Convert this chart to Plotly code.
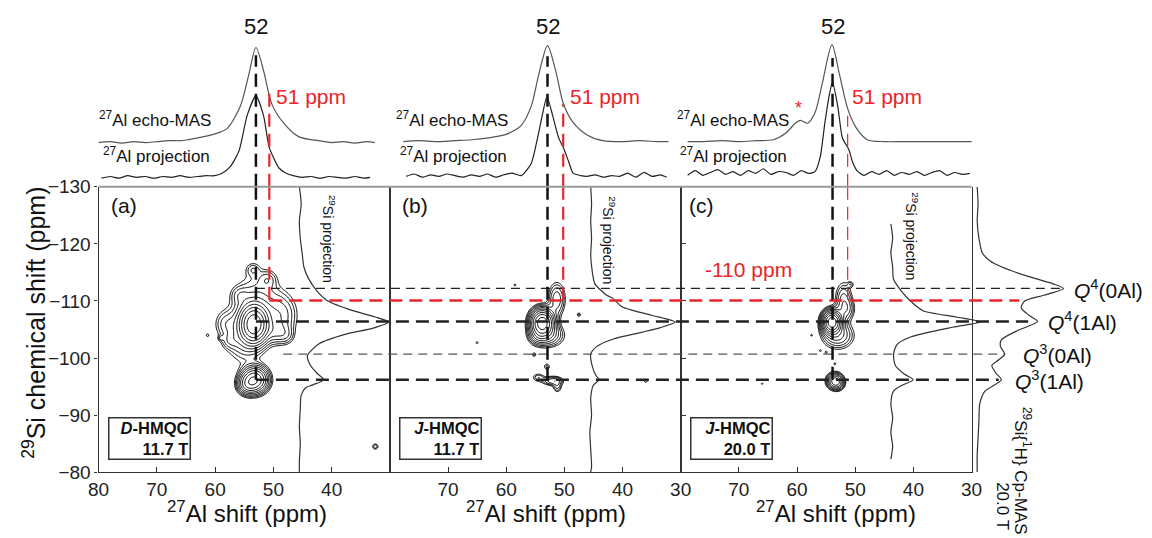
import numpy as np
import plotly.graph_objects as go

# ---------------- DATA ----------------
# 27Al echo-MAS (top traces) : ppm / normalised intensity
echo_a_ppm = [80.2, 78, 76, 74, 72, 70, 68, 66, 64.7, 63, 61.3, 59.6, 57.9, 55.7, 54.2, 53.0, 51.7, 50.3, 48.3, 45.6, 42.2, 40, 38, 36, 34, 32.6]
echo_a_int = [0, 0.01, -0.005, 0.01, 0.0, 0.01, 0.02, 0.02, 0.03, 0.05, 0.07, 0.10, 0.15, 0.38, 0.72, 1.0, 0.76, 0.41, 0.21, 0.06, 0.02, 0.0, 0.01, -0.005, 0.01, 0.0]
echo_b_ppm = [77.7, 75, 72, 69, 65.9, 63, 60.3, 58.8, 57.4, 55.7, 54.4, 52.9, 51.5, 50.2, 48.5, 46.1, 43.4, 40, 37, 34, 32.1]
echo_b_int = [0, 0.01, 0.0, 0.01, 0.02, 0.04, 0.07, 0.11, 0.17, 0.37, 0.70, 1.0, 0.74, 0.40, 0.20, 0.07, 0.01, 0.0, 0.01, 0.0, 0.0]
echo_c_ppm = [78.8, 76, 73, 70, 67, 64.1, 61.9, 60.3, 59.4, 58.2, 56.9, 55.7, 54.0, 52.7, 51.3, 49.8, 47.9, 45, 42, 39, 36, 33, 29.9]
echo_c_int = [0, 0.0, 0.01, 0.0, 0.01, 0.02, 0.09, 0.19, 0.22, 0.19, 0.30, 0.59, 1.0, 0.69, 0.34, 0.14, 0.02, 0.0, 0.0, 0.0, 0.0, 0.0, 0.0]

# 27Al projections (top traces)
proj_a_ppm = [79.5, 78, 76.5, 75, 73.5, 72, 70.5, 69, 67.5, 66, 64.5, 63, 61.5, 60.1, 58.8, 57.4, 55.9, 54.5, 53.0, 51.7, 50.7, 49.0, 47.8, 46.6, 45, 43.5, 42, 40.5, 39, 37.5, 36, 34.5, 33.4]
proj_a_int = [0, 0.02, 0.0, 0.03, 0.01, 0.02, 0.0, 0.02, 0.01, 0.03, 0.01, 0.02, 0.03, 0.03, 0.06, 0.14, 0.33, 0.76, 1.0, 0.76, 0.37, 0.12, 0.06, 0.03, 0.01, 0.02, 0.0, 0.02, 0.01, 0.0, 0.02, 0.0, 0.01]
proj_b_ppm = [77.2, 75.8, 74.4, 73, 71.6, 70.2, 68.8, 67.4, 66, 64.6, 63.2, 61.8, 60.4, 59, 57.4, 55.7, 54.6, 53.7, 53.0, 52.0, 51.0, 50.2, 49.3, 48.5, 47.2, 46.1, 44.7, 43.3, 41.9, 40.5, 39.1, 37.7, 36.3, 34.9, 33.5, 32.4]
proj_b_int = [0.01, 0.04, 0.0, 0.03, 0.01, 0.04, 0.02, 0.0, 0.03, 0.01, 0.04, 0.0, 0.03, 0.05, 0.02, 0.17, 0.49, 0.8, 1.0, 0.76, 0.49, 0.37, 0.2, 0.05, 0.02, 0.01, 0.03, 0.0, 0.02, 0.01, 0.05, 0.0, 0.06, 0.01, 0.03, 0.0]
proj_c_ppm = [78.8, 77.5, 76.2, 74.9, 73.6, 72.3, 71, 69.7, 68.4, 67.1, 65.8, 64.5, 63.2, 61.9, 60.6, 59.3, 58, 56.9, 56.0, 55.2, 54.4, 53.9, 53.0, 52.2, 51.3, 51.0, 50.5, 49.7, 48.5, 47.2, 45.9, 44.6, 43.3, 42, 40.7, 39.4, 38.1, 36.8, 35.5, 34.2, 32.9, 31.6, 30.3]
proj_c_int = [0, 0.05, 0.0, 0.03, 0.06, 0.01, 0.04, 0.0, 0.05, 0.02, 0.07, 0.01, 0.04, 0.03, 0.0, 0.05, 0.02, 0.04, 0.2, 0.57, 0.88, 1.0, 0.74, 0.40, 0.30, 0.26, 0.15, 0.05, 0.0, 0.04, 0.01, 0.05, 0.0, 0.03, 0.01, 0.04, 0.0, 0.03, 0.05, 0.0, 0.03, 0.01, 0.02]

# 29Si projections (side traces): Si ppm / normalised intensity
si_a_ppm = [-130, -127, -124, -121, -118.5, -116, -114, -111.7, -110, -108.3, -107.2, -106.3, -105.2, -104.2, -102.5, -100.4, -98.7, -97.3, -96.2, -95.3, -94.8, -93.5, -91, -88, -85, -82, -80]
si_a_int = [0.0, 0.02, 0.0, 0.01, 0.03, 0.05, 0.1, 0.2, 0.32, 0.6, 0.85, 1.0, 0.82, 0.52, 0.22, 0.09, 0.125, 0.2, 0.27, 0.15, 0.07, 0.02, 0.01, 0.0, 0.01, 0.0, 0.0]
si_b_ppm = [-130, -127, -124, -121, -118, -115, -113, -111, -110.5, -109, -107.5, -106.3, -105.3, -104.5, -103.3, -102, -100.7, -98.5, -97, -96.2, -95.2, -93, -90, -87, -84, -81, -80]
si_b_int = [0, 0.01, 0.0, 0.01, 0.0, 0.02, 0.05, 0.19, 0.26, 0.37, 0.72, 1.0, 0.82, 0.6, 0.26, 0.07, 0.0, 0.02, 0.06, 0.1, 0.03, 0.0, 0.01, -0.01, 0.0, 0.01, 0.0]
si_c_ppm = [-123.5, -121, -118.5, -116, -113.8, -111.7, -110, -108.3, -107.2, -106.3, -105.4, -103.7, -102.4, -100.7, -98.7, -97.2, -96.2, -95.2, -94.2, -92, -89.5, -87, -84.5, -82.3]
si_c_int = [0, 0.02, 0.0, 0.02, 0.03, 0.12, 0.22, 0.36, 0.73, 1.0, 0.69, 0.22, 0.07, 0.03, 0.05, 0.15, 0.25, 0.12, 0.03, 0.0, 0.02, 0.0, 0.02, 0.0]

# 29Si{1H} CP-MAS 20.0 T
cp_ppm = [-130, -127, -124, -121, -118.4, -117, -116, -114.3, -113, -112.2, -111, -110, -108.8, -107.5, -106.4, -104.9, -103.2, -102, -100.7, -99.7, -98.7, -97.3, -96.2, -94.2, -92, -89, -86, -83, -80]
cp_int = [0, 0.01, 0.0, 0.02, 0.06, 0.15, 0.28, 0.59, 0.88, 1.0, 0.77, 0.55, 0.51, 0.6, 0.7, 0.48, 0.28, 0.27, 0.32, 0.25, 0.17, 0.22, 0.28, 0.09, 0.03, 0.02, 0.01, 0.0, 0.0]

# 2D correlation peaks (27Al ppm, 29Si ppm, widths, relative amplitude)
pk_a_al = [53.3, 52.8, 55.0, 48.6, 47.8, 58.3, 53.2, 54.5, 57.5, 49.5, 51.0, 55.8, 53.5, 61.3, 59.0, 32.5]
pk_a_si = [-105.9, -108.8, -104.0, -107.5, -104.0, -106.0, -96.2, -95.3, -103.0, -104.5, -113.8, -111.0, -115.5, -104.0, -103.5, -84.5]
pk_a_sx = [1.3, 2.5, 2.0, 1.7, 0.9, 1.2, 1.3, 1.0, 0.9, 1.2, 1.0, 1.0, 0.8, 0.25, 0.3, 0.4]
pk_a_sy = [1.8, 3.6, 2.8, 2.4, 1.0, 1.5, 1.3, 1.0, 0.9, 1.2, 1.0, 1.0, 0.8, 0.25, 0.3, 0.4]
pk_a_amp = [1.0, 0.11, 0.11, 0.1, 0.05, 0.06, 0.55, 0.2, 0.05, 0.08, 0.06, 0.05, 0.05, 0.045, 0.05, 0.06]

pk_b_al = [53.8, 51.3, 52.8, 54.5, 52.0, 54.5, 58.5, 65.0, 55.2, 47.5, 53.0, 36.0, 51.2]
pk_b_si = [-106.2, -110.3, -104.0, -104.0, -96.0, -96.6, -112.8, -102.7, -100.6, -107.6, -98.5, -96.0, -95.0]
pk_b_sx = [1.1, 0.9, 1.6, 1.0, 1.1, 0.7, 0.25, 0.25, 0.3, 0.3, 0.45, 0.3, 0.5]
pk_b_sy = [1.3, 1.8, 1.2, 1.0, 0.5, 0.5, 0.25, 0.25, 0.3, 0.3, 0.45, 0.3, 0.7]
pk_b_amp = [1.0, 0.12, 0.15, 0.1, 0.12, 0.06, 0.04, 0.04, 0.05, 0.05, 0.05, 0.045, 0.07]

pk_c_al = [54.0, 52.0, 53.0, 53.5, 53.0, 57.5, 56.0, 55.0, 50.8, 53.5, 66.0, 51.5]
pk_c_si = [-106.3, -110.3, -104.0, -96.0, -95.5, -104.0, -101.3, -101.0, -112.9, -99.0, -95.5, -108.5]
pk_c_sx = [0.9, 0.9, 1.6, 0.8, 0.7, 0.2, 0.2, 0.2, 0.35, 0.25, 0.2, 0.9]
pk_c_sy = [1.1, 1.9, 1.4, 0.8, 0.7, 0.2, 0.2, 0.2, 0.35, 0.25, 0.2, 1.2]
pk_c_amp = [1.0, 0.1, 0.15, 0.3, 0.1, 0.04, 0.04, 0.04, 0.05, 0.04, 0.04, 0.08]

# Reference lines
h_si = [-112.2, -110.1, -106.4, -100.7, -96.2]          # horizontal guides (29Si ppm)
h_start_al = [53.0, 50.7, 53.0, 48.3, 53.0]              # start (27Al ppm, panel a)
v_black_al = [53.0, 52.9, 53.9]                           # 52 ppm guides per panel
v_red_al = [50.7, 50.2, 51.3]                             # 51 ppm guides per panel
q_labels = ["<i>Q</i><sup>4</sup>(0Al)", "<i>Q</i><sup>4</sup>(1Al)", "<i>Q</i><sup>3</sup>(0Al)", "<i>Q</i><sup>3</sup>(1Al)"]
panel_tags = ["(a)", "(b)", "(c)"]
box_texts = ["<b><i>D</i>-HMQC</b><br><b>11.7 T</b>", "<b><i>J</i>-HMQC</b><br><b>11.7 T</b>", "<b><i>J</i>-HMQC</b><br><b>20.0 T</b>"]
x_ticks = [[80, 70, 60, 50, 40], [70, 60, 50, 40, 30], [70, 60, 50, 40, 30]]
y_ticks = [-130, -120, -110, -100, -90, -80]

# ---------------- LAYOUT GEOMETRY (pixels) ----------------
W, H = 1152, 538
FONT = "Liberation Sans, Arial, sans-serif"
RED = "#e8252b"
PL = [89.3, 386.3, 682.7]
PR = [386.3, 682.7, 979.3]
TOP, BOT = 184, 481


def fx(p):
    return p / W


def fy(p):
    return 1 - p / H


def al_px(ppm, i):
    return PL[i] + (80 - ppm) / 50 * (PR[i] - PL[i])


def side_domain(b0, b1, lo=-0.1, hi=1.1):
    span = b1 - b0
    return [fx(b0 + lo * span), fx(b0 + hi * span)]


fig = go.Figure()

# ---- 2D contour maps ----
al_grid = np.arange(30, 80.001, 0.15)
si_grid = np.arange(-130, -79.999, 0.15)
AL, SI = np.meshgrid(al_grid, si_grid)
peaks = [(pk_a_al, pk_a_si, pk_a_sx, pk_a_sy, pk_a_amp),
         (pk_b_al, pk_b_si, pk_b_sx, pk_b_sy, pk_b_amp),
         (pk_c_al, pk_c_si, pk_c_sx, pk_c_sy, pk_c_amp)]
axn = ["", "2", "3"]
for i, (pa, ps, sx, sy, am) in enumerate(peaks):
    Z = np.zeros_like(AL)
    for a, s, wx, wy, amp in zip(pa, ps, sx, sy, am):
        Z += amp * np.exp(-0.5 * (((AL - a) / wx) ** 2 + ((SI - s) / wy) ** 2))
    fig.add_trace(go.Contour(
        x=al_grid, y=si_grid, z=np.log10(Z + 1e-9),
        xaxis="x" + axn[i], yaxis="y" + axn[i],
        autocontour=False,
        contours=dict(start=-1.5, end=-0.05, size=0.155, coloring="lines"),
        colorscale=[[0, "black"], [1, "black"]],
        line=dict(width=1.0, smoothing=1.0),
        showscale=False, hoverinfo="skip"))

# ---- top traces (27Al) ----
# y4 axis: 1 unit = 1 px, 0 at panel top edge
top_sets = [
    (echo_a_ppm, echo_a_int, 46, 99, proj_a_ppm, proj_a_int, 9, 86),
    (echo_b_ppm, echo_b_int, 47, 100, proj_b_ppm, proj_b_int, 10, 84),
    (echo_c_ppm, echo_c_int, 47, 101, proj_c_ppm, proj_c_int, 12, 97),
]
for i, (ep, ei, eb, eh, pp, pi, pb, ph) in enumerate(top_sets):
    xa = "x" + str(4 + i)
    fig.add_trace(go.Scatter(x=ep, y=[eb + eh * v for v in ei], xaxis=xa, yaxis="y4",
                             mode="lines", line=dict(color="#555", width=1.2, shape="spline", smoothing=0.8),
                             hoverinfo="skip"))
    fig.add_trace(go.Scatter(x=pp, y=[pb + ph * v for v in pi], xaxis=xa, yaxis="y4",
                             mode="lines", line=dict(color="#222", width=1.2, shape="spline", smoothing=0.6),
                             hoverinfo="skip"))

# ---- side traces (29Si) ----
side_sets = [(si_a_ppm, si_a_int, "x7"), (si_b_ppm, si_b_int, "x8"), (si_c_ppm, si_c_int, "x9"), (cp_ppm, cp_int, "x10")]
for sp, si, xa in side_sets:
    fig.add_trace(go.Scatter(x=si, y=sp, xaxis=xa, yaxis="y", mode="lines",
                             line=dict(color="#333", width=1.2, shape="spline", smoothing=0.7),
                             hoverinfo="skip"))

# ---------------- AXES ----------------
dom_y = [fy(BOT), fy(TOP)]
common_x = dict(range=[80, 30], showgrid=False, zeroline=False, showline=True, linecolor="#333", linewidth=1.2,
                ticks="inside", ticklen=5, tickcolor="#333", tickfont=dict(size=19, family=FONT, color="#222"))
lay = dict(
    width=W, height=H, margin=dict(l=0, r=0, t=0, b=0),
    paper_bgcolor="white", plot_bgcolor="rgba(0,0,0,0)", showlegend=False,
    font=dict(family=FONT, color="#222"),
    xaxis=dict(domain=[fx(PL[0]), fx(PR[0])], anchor="y", tickvals=x_ticks[0], **common_x),
    xaxis2=dict(domain=[fx(PL[1]), fx(PR[1])], anchor="y2", tickvals=x_ticks[1], **common_x),
    xaxis3=dict(domain=[fx(PL[2]), fx(PR[2])], anchor="y3", tickvals=x_ticks[2], **common_x),
    yaxis=dict(domain=dom_y, range=[-80, -130], anchor="x", tickvals=y_ticks, ticks="outside", ticklen=3,
               tickcolor="#333", showline=True, mirror=True, linecolor="#333", linewidth=1.2,
               showgrid=False, zeroline=False, tickfont=dict(size=19, family=FONT, color="#222")),
    yaxis2=dict(domain=dom_y, range=[-80, -130], anchor="x2", showticklabels=False, ticks="",
                showline=True, mirror=True, linecolor="#333", linewidth=1.2, showgrid=False, zeroline=False),
    yaxis3=dict(domain=dom_y, range=[-80, -130], anchor="x3", showticklabels=False, ticks="inside", ticklen=5,
                tickvals=y_ticks, tickcolor="#333",
                showline=True, mirror=True, linecolor="#333", linewidth=1.2, showgrid=False, zeroline=False),
    yaxis4=dict(domain=[fy(TOP), 1], range=[0, TOP], anchor="x4", visible=False),
)
for i in range(3):
    lay["xaxis" + str(4 + i)] = dict(domain=[fx(PL[i]), fx(PR[i])], range=[80, 30], anchor="y4", visible=False)
side_px = [(294, 385), (591, 677), (897, 988), (985, 1073)]
for k, (b0, b1) in enumerate(side_px):
    lay["xaxis" + str(7 + k)] = dict(domain=side_domain(b0, b1), range=[-0.1, 1.1], anchor="y", visible=False)
fig.update_layout(**lay)

# ---------------- SHAPES ----------------
shapes = []
THICK = "13px,7px"
THIN = "9px,6px"
h_end_px = [1073, 1028, 1037, 1013, 1007]
h_col = ["#222", RED, "#222", "#555", "#222"]
h_w = [1.2, 2.5, 2.5, 1.2, 2.5]
h_dash = [THIN, THICK, THICK, THIN, THICK]
for s, a0, x1, c, w, d in zip(h_si, h_start_al, h_end_px, h_col, h_w, h_dash):
    shapes.append(dict(type="line", xref="paper", yref="y", x0=fx(al_px(a0, 0)), x1=fx(x1), y0=s, y1=s,
                       line=dict(color=c, width=w, dash=d)))
black_top = [47, 48, 50]
red_top = [87, 98, 110]
red_w = [2.2, 2.2, 1.2]
for i in range(3):
    xa = "x" + str(4 + i)
    xb = "x" + axn[i]
    yb = "y" + axn[i]
    shapes.append(dict(type="line", xref=xa, yref="paper", x0=v_black_al[i], x1=v_black_al[i],
                       y0=fy(TOP), y1=fy(black_top[i]), line=dict(color="#111", width=2.5, dash=THICK)))
    shapes.append(dict(type="line", xref=xb, yref=yb, x0=v_black_al[i], x1=v_black_al[i],
                       y0=-130, y1=h_si[4], line=dict(color="#111", width=2.5, dash=THICK)))
    shapes.append(dict(type="line", xref=xa, yref="paper", x0=v_red_al[i], x1=v_red_al[i],
                       y0=fy(TOP), y1=fy(red_top[i]), line=dict(color=RED, width=red_w[i], dash=THICK)))
    shapes.append(dict(type="line", xref=xb, yref=yb, x0=v_red_al[i], x1=v_red_al[i],
                       y0=-130, y1=h_si[1], line=dict(color=RED, width=red_w[i], dash=THICK)))
# grey top frame line
shapes.append(dict(type="line", xref="paper", yref="paper", x0=fx(PL[0]), x1=fx(PR[2]), y0=fy(TOP), y1=fy(TOP),
                   line=dict(color="#9a9a9a", width=2)))
fig.update_layout(shapes=shapes)

# ---------------- ANNOTATIONS ----------------
def note(text, x, y, size, color="#111", xanchor="center", yanchor="middle", angle=0, **kw):
    return dict(text=text, x=fx(x), y=fy(y), xref="paper", yref="paper", showarrow=False,
                font=dict(size=size, color=color, family=FONT), xanchor=xanchor, yanchor=yanchor,
                textangle=angle, **kw)


ann = []
ann.append(note("<sup>29</sup>Si chemical shift (ppm)", 24, 326, 25, angle=-90))
x_title_px = [241, 545, 841]
for i in range(3):
    ann.append(note("<sup>27</sup>Al shift (ppm)", x_title_px[i], 522, 24))
# top labels
top52_px = [250, 547, 838]
red51_px = [268, 568, 855]
echo_lbl_px = [88, 390, 677]
proj_lbl_px = [92, 395, 680]
for i in range(3):
    ann.append(note("52", top52_px[i], 17, 22))
    ann.append(note("51 ppm", red51_px[i], 90, 21, color=RED, xanchor="left"))
    ann.append(note("<sup>27</sup>Al echo-MAS", echo_lbl_px[i], 113, 17, xanchor="left"))
    ann.append(note("<sup>27</sup>Al projection", proj_lbl_px[i], 151, 17, xanchor="left"))
ann.append(note("*", 803, 102, 18, color=RED))
# panel tags and boxes
tag_px = [115, 412, 704]
box_px = [141.5, 438, 734.5]
for i in range(3):
    ann.append(note(panel_tags[i], tag_px[i], 203, 21))
    ann.append(note(box_texts[i], box_px[i], 446, 16.5, align="right", bordercolor="#333", borderwidth=1.5,
                    borderpad=1, width=78, height=38))
# 29Si projection labels
sp_px = [(324, 238), (610, 240), (919, 236)]
for x, y in sp_px:
    ann.append(note("<sup>29</sup>Si projection", x, y, 14, angle=90))
# -110 ppm
ann.append(note("-110 ppm", 705, 270, 21, color=RED, xanchor="left"))
# Q labels
q_px = [(1082, 290), (1055, 324), (1030, 358), (1022, 385)]
for t, (x, y) in zip(q_labels, q_px):
    ann.append(note(t, x, y, 21, xanchor="left"))
ann.append(note("<sup>29</sup>Si{<sup>1</sup>H} Cp-MAS", 1031, 480, 17, angle=90))
ann.append(note("20.0 T", 1010, 516, 17, angle=90))
fig.update_layout(annotations=ann)

fig.write_html("out.html")
